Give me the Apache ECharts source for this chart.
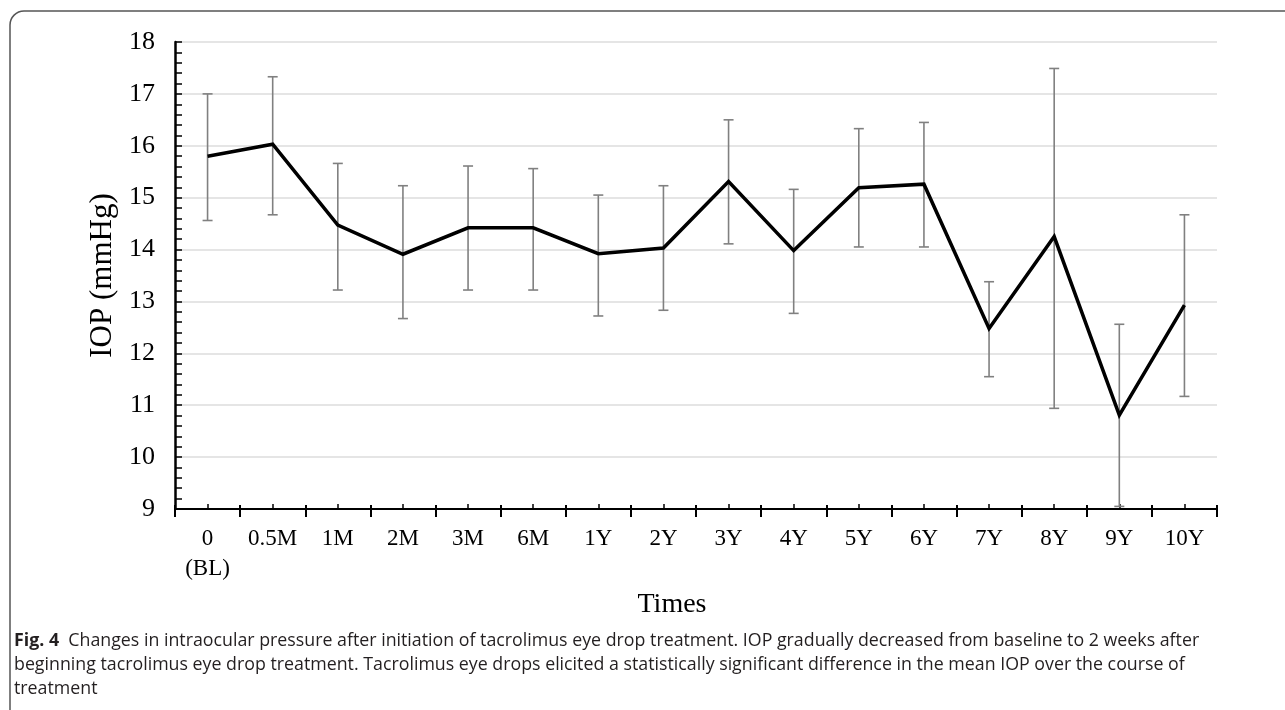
<!DOCTYPE html>
<html>
<head>
<meta charset="utf-8">
<script src="https://cdn.jsdelivr.net/npm/echarts@6/dist/echarts.min.js"></script>
<style>
html,body{margin:0;padding:0;background:#fff;}
#chart{width:1285px;height:710px;}
</style>
</head>
<body>
<div id="chart"></div>
<script>
const categories = ['0\n(BL)', '0.5M', '1M', '2M', '3M', '6M', '1Y', '2Y', '3Y', '4Y', '5Y', '6Y', '7Y', '8Y', '9Y', '10Y'];
const meanIOP = [15.80, 16.03, 14.47, 13.91, 14.42, 14.42, 13.92, 14.03, 15.31, 13.98, 15.19, 15.26, 12.48, 14.25, 10.81, 12.93];
const upperIOP = [17.00, 17.33, 15.66, 15.23, 15.61, 15.56, 15.05, 15.23, 16.50, 15.16, 16.33, 16.45, 13.38, 17.49, 12.56, 14.67];
const lowerIOP = [14.56, 14.67, 13.22, 12.67, 13.22, 13.22, 12.72, 12.83, 14.11, 12.77, 14.05, 14.05, 11.55, 10.94, 9.05, 11.17];
const yTicks = [9, 10, 11, 12, 13, 14, 15, 16, 17, 18];

const serif = '"Liberation Serif", "DejaVu Serif", serif';
const sans = '"Open Sans", "Liberation Sans", Arial, sans-serif';
const errData = categories.map((c, i) => [i, lowerIOP[i], upperIOP[i]]);

const chart = echarts.init(document.getElementById('chart'));
chart.setOption({
  animation: false,
  backgroundColor: '#ffffff',
  grid: { left: 175, right: 68, top: 42, bottom: 201, containLabel: false },
  xAxis: [
    {
      type: 'category', data: categories, boundaryGap: true, position: 'bottom',
      name: 'Times', nameLocation: 'middle', nameGap: 82,
      nameTextStyle: { fontFamily: serif, fontSize: 28, color: '#000', padding: [0, 48, 0, 0] },
      axisLine: { show: true, lineStyle: { color: '#000', width: 2 } },
      axisTick: { show: true, interval: 0, inside: false, length: 8, lineStyle: { color: '#000', width: 2 } },
      axisLabel: { interval: 0, margin: 15, fontFamily: serif, fontSize: 23, color: '#000', lineHeight: 30 },
      splitLine: { show: false }
    },
    {
      type: 'category', data: categories, boundaryGap: true, position: 'bottom',
      axisLine: { show: false },
      axisTick: { show: true, interval: 0, inside: true, length: 5, alignWithLabel: true, lineStyle: { color: '#000', width: 1.5 } },
      axisLabel: { show: false }, splitLine: { show: false }
    },
    {
      type: 'category', data: categories, boundaryGap: true, position: 'bottom',
      axisLine: { show: false },
      axisTick: { show: true, interval: 0, inside: true, length: 4, lineStyle: { color: '#000', width: 2 } },
      axisLabel: { show: false }, splitLine: { show: false }
    }
  ],
  yAxis: {
    type: 'value', min: yTicks[0], max: yTicks[yTicks.length - 1], interval: 1,
    name: 'IOP (mmHg)', nameLocation: 'middle', nameGap: 57, nameRotate: 90,
    nameTextStyle: { fontFamily: serif, fontSize: 31, color: '#000' },
    axisLine: { show: true, lineStyle: { color: '#000', width: 2.5 } },
    axisTick: { show: true, inside: true, length: 7, lineStyle: { color: '#000', width: 1.5 } },
    minorTick: { show: true, splitNumber: 5, length: 7, lineStyle: { color: '#000', width: 1.5 } },
    axisLabel: { margin: 20, fontFamily: serif, fontSize: 26, color: '#000' },
    splitLine: { show: true, lineStyle: { color: '#dcdcdc', width: 1.5 } }
  },
  graphic: [
    {
      type: 'rect', shape: { x: 10, y: 11, width: 1300, height: 730, r: 14 },
      style: { fill: 'none', stroke: '#555', lineWidth: 1.5 }, silent: true, z: 0
    },
    {
      type: 'text', left: 14, top: 629,
      style: {
        text: '{b|Fig. 4}  Changes in intraocular pressure after initiation of tacrolimus eye drop treatment. IOP gradually decreased from baseline to 2 weeks after\nbeginning tacrolimus eye drop treatment. Tacrolimus eye drops elicited a statistically significant difference in the mean IOP over the course of\ntreatment',
        fontFamily: sans, fontSize: 17.8, lineHeight: 24, fill: '#231f20',
        rich: { b: { fontWeight: 'bold', fontFamily: sans, fontSize: 17.8, fill: '#231f20' } }
      }
    }
  ],
  series: [
    {
      type: 'custom', name: 'sd', xAxisIndex: 0, data: errData, z: 2,
      renderItem: function (params, api) {
        const x = api.value(0);
        const lo = api.coord([x, api.value(1)]);
        const hi = api.coord([x, api.value(2)]);
        const w = 5;
        const st = { stroke: '#808080', lineWidth: 1.6 };
        return {
          type: 'group', children: [
            { type: 'line', shape: { x1: hi[0], y1: hi[1], x2: lo[0], y2: lo[1] }, style: st },
            { type: 'line', shape: { x1: hi[0] - w, y1: hi[1], x2: hi[0] + w, y2: hi[1] }, style: st },
            { type: 'line', shape: { x1: lo[0] - w, y1: lo[1], x2: lo[0] + w, y2: lo[1] }, style: st }
          ]
        };
      }
    },
    {
      type: 'line', name: 'IOP', xAxisIndex: 0, data: meanIOP, z: 3,
      symbol: 'none', lineStyle: { color: '#000', width: 3.5, join: 'miter' }
    }
  ]
});
</script>
</body>
</html>
